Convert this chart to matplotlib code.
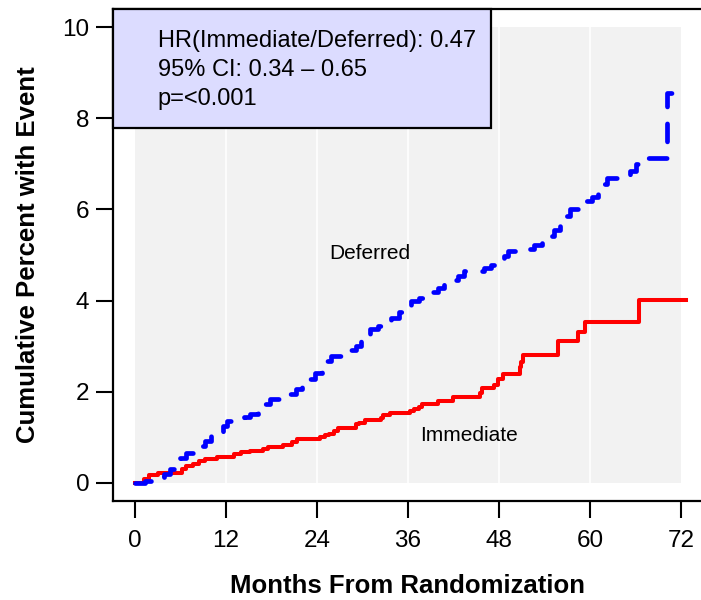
import matplotlib
matplotlib.use("Agg")
import matplotlib.pyplot as plt
from matplotlib.patches import Rectangle

plt.rcParams['font.family'] = ['Liberation Sans', 'DejaVu Sans']

# cumulative percent with event, step functions (time in months)
def_months = [0, 1.3, 2.8, 3.8, 4.6, 5.4, 6.0, 6.8, 7.6, 8.4, 9.2, 10.0, 10.8,
              11.6, 12.2, 14.4, 15.2, 16.2, 17.0, 17.8, 20.4, 21.2, 22.0, 23.0,
              23.8, 24.6, 25.2, 25.8, 27.4, 28.4, 29.2, 29.8, 30.4, 31.0, 32.0,
              33.0, 33.8, 34.8, 35.6, 36.4, 37.4, 38.4, 39.2, 40.0, 40.8, 41.6,
              42.6, 43.4, 46.0, 47.0, 48.0, 48.6, 49.2, 51.6, 52.6, 53.6, 54.4,
              55.2, 56.0, 56.8, 57.4, 58.4, 59.4, 60.2, 61.0, 61.6, 62.2, 64.2,
              65.2, 66.0, 66.6, 70.2, 72.5]
def_pct = [0, 0.05, 0.12, 0.2, 0.3, 0.45, 0.55, 0.65, 0.72, 0.8, 0.92, 1.02, 1.12,
           1.25, 1.35, 1.45, 1.52, 1.6, 1.72, 1.84, 1.95, 2.05, 2.15, 2.28,
           2.4, 2.55, 2.68, 2.78, 2.85, 2.92, 3.0, 3.12, 3.25, 3.38, 3.45,
           3.55, 3.62, 3.75, 3.88, 3.98, 4.05, 4.12, 4.18, 4.28, 4.38, 4.45,
           4.55, 4.64, 4.72, 4.78, 4.85, 4.98, 5.08, 5.14, 5.22, 5.3, 5.42,
           5.55, 5.7, 5.85, 6.0, 6.08, 6.18, 6.28, 6.4, 6.55, 6.7, 6.75,
           6.85, 7.0, 7.12, 8.55, 8.55]

imm_months = [0, 1.2, 1.8, 3.0, 6.2, 6.7, 7.6, 8.4, 9.3, 10.8, 13.1, 14.0, 15.2,
              16.9, 17.6, 19.5, 20.7, 21.4, 24.4, 25.0, 25.6, 26.2, 26.8, 29.2,
              29.6, 30.3, 32.5, 32.7, 33.6, 36.3, 36.8, 37.4, 37.9, 40.0, 41.9,
              45.5, 45.8, 47.3, 47.8, 48.5, 50.7, 50.9, 51.1, 55.8, 58.4, 59.3,
              66.4, 72.6]
imm_pct = [0, 0.08, 0.18, 0.22, 0.3, 0.37, 0.42, 0.47, 0.52, 0.57, 0.64, 0.67, 0.7,
           0.75, 0.79, 0.84, 0.9, 0.96, 1.01, 1.05, 1.08, 1.14, 1.21, 1.28,
           1.32, 1.37, 1.43, 1.48, 1.53, 1.57, 1.62, 1.66, 1.74, 1.8, 1.88,
           1.98, 2.07, 2.14, 2.28, 2.39, 2.55, 2.65, 2.8, 3.12, 3.31, 3.53,
           4.02, 4.02]

x_ticks = [0, 12, 24, 36, 48, 60, 72]
y_ticks = [0, 2, 4, 6, 8, 10]
stats_lines = ["HR(Immediate/Deferred): 0.47", "95% CI: 0.34 \u2013 0.65", "p=<0.001"]

fig = plt.figure(figsize=(7.01, 6.0), dpi=100)
ax = fig.add_axes([113 / 701, 99 / 600, 590 / 701, 492 / 600])

# grey panel with white vertical grid
ax.add_patch(Rectangle((0, 0), 72, 10, facecolor="#f2f2f2", edgecolor="none", zorder=0))
for t in x_ticks[1:-1]:
    ax.plot([t, t], [0, 10], color="white", lw=1.2, zorder=1)

ax.step(imm_months, imm_pct, where="post", color="#ff0000", lw=2.9, zorder=3)
ax.step(def_months, def_pct, where="post", color="#0000ff", lw=3.4,
        linestyle=(0, (3.8, 3.6)), dash_capstyle="round", zorder=3)

ax.text(31.0, 5.04, "Deferred", ha="center", va="center", fontsize=15)
ax.text(44.1, 1.04, "Immediate", ha="center", va="center", fontsize=15)

ax.set_xlim(-2.88, 74.88)
ax.set_ylim(-0.4, 10.4)
ax.set_xticks(x_ticks)
ax.set_yticks(y_ticks)
ax.tick_params(labelsize=17.5, length=12, width=1.5)
ax.tick_params(axis="x", pad=9)
ax.tick_params(axis="y", pad=5)
for s in ax.spines.values():
    s.set_linewidth(1.6)

ax.set_xlabel("Months From Randomization", fontsize=18.5, fontweight="bold", labelpad=16)
ax.set_ylabel("Cumulative Percent with Event", fontsize=18.5, fontweight="bold", labelpad=16)

# stats box in upper left
ax.add_patch(Rectangle((0, 0.759), 0.641, 0.241, transform=ax.transAxes,
                       facecolor="#dcdcff", edgecolor="black", lw=1.6, zorder=5,
                       clip_on=False))
for i, line in enumerate(stats_lines):
    ax.text(0.076, 0.935 - i * 0.059, line, transform=ax.transAxes,
            ha="left", va="center", fontsize=17, zorder=6)

fig.savefig("out.png", dpi=100)
